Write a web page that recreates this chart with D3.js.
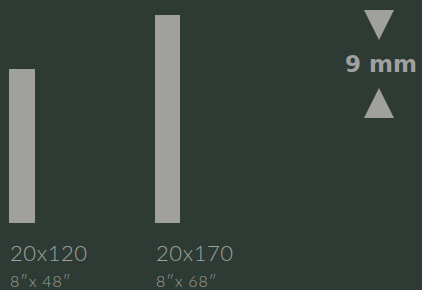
<!DOCTYPE html>
<html>
<head>
<meta charset="utf-8">
<script src="https://cdn.jsdelivr.net/npm/d3@7"></script>
<style>
  html, body { margin: 0; padding: 0; background: #2e3b35; }
  svg { display: block; }
</style>
</head>
<body>
<svg id="chart" width="422" height="290"></svg>
<script>
// data
let sizes     = ["20x120", "20x170"];
let lengths   = [120, 170];
let inchLabel = ["8\u2033x 48\u2033", "8\u2033x 68\u2033"];
let thickness = "9 mm";

let chart = d3.select("#chart");
let grey = "#a0a09e";

// x position for each bar
let x = d3.scaleOrdinal()
    .domain(sizes)
    .range([9, 155]);

// bar height scale
let y = d3.scaleLinear()
    .domain([-22.6, 170])
    .range([223, 15]);

// bars
chart.selectAll("rect.bar")
    .data(sizes)
    .enter()
    .append("rect")
    .attr("class", "bar")
    .attr("x", d => x(d))
    .attr("y", (d, i) => y(lengths[i]))
    .attr("width", (d, i) => i == 0 ? 26 : 25)
    .attr("height", (d, i) => y(-22.6) - y(lengths[i]))
    .style("fill", grey);

// size labels
chart.selectAll("text.size")
    .data(sizes)
    .enter()
    .append("text")
    .attr("class", "size")
    .text(d => d)
    .attr("x", d => x(d) + 1)
    .attr("y", 261)
    .style("font-family", "Lato, 'DejaVu Sans', sans-serif")
    .style("font-weight", 300)
    .style("font-size", "22px")
    .style("letter-spacing", "0.6px")
    .style("fill", grey);

// inch labels
chart.selectAll("text.inch")
    .data(sizes)
    .enter()
    .append("text")
    .attr("class", "inch")
    .text((d, i) => inchLabel[i])
    .attr("x", d => x(d) + 1)
    .attr("y", 287)
    .style("font-family", "Lato, 'DejaVu Sans', sans-serif")
    .style("font-weight", 300)
    .style("font-size", "16px")
    .style("letter-spacing", "0.8px")
    .style("fill", grey);

// thickness marker
let cx = 379;
chart.append("path")
    .attr("d", d3.line()([[cx - 15, 10], [cx + 15, 10], [cx, 40]]) + "Z")
    .style("fill", grey);
chart.append("path")
    .attr("d", d3.line()([[cx - 15, 118], [cx + 15, 118], [cx, 88]]) + "Z")
    .style("fill", grey);
chart.append("text")
    .text(thickness)
    .attr("x", cx + 2)
    .attr("y", 72)
    .style("text-anchor", "middle")
    .style("font-family", "'DejaVu Sans', sans-serif")
    .style("font-weight", 700)
    .style("font-size", "23px")
    .style("fill", grey);
</script>
</body>
</html>
